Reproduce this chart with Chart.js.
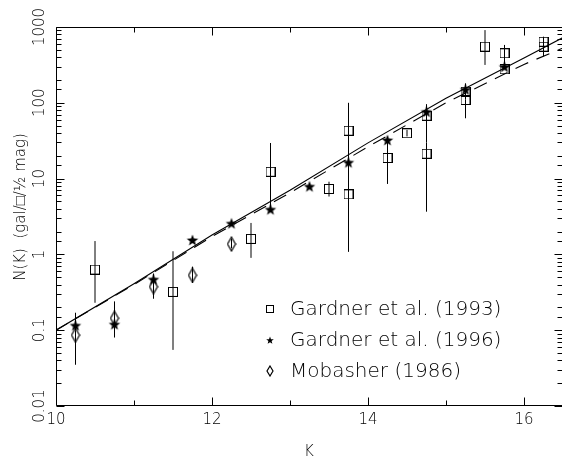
<!DOCTYPE html>
<html>
<head>
<meta charset="utf-8">
<script src="https://cdn.jsdelivr.net/npm/chart.js@4.4.1/dist/chart.umd.min.js"></script>
<style>
  html, body { margin: 0; padding: 0; background: #fff; overflow: hidden; }
  canvas { display: block; }
</style>
</head>
<body>
<canvas id="counts" width="570" height="462" style="width:570px;height:462px"></canvas>
<script>
// Gardner et al. (1993) - squares
const g93K  = [10.5, 11.5, 12.5, 12.75, 13.5, 13.75, 13.75, 14.25, 14.5, 14.75, 14.75, 15.25, 15.25, 15.5, 15.75, 15.75, 16.25, 16.25];
const g93N  = [0.63, 0.32, 1.6, 12.3, 7.3, 42.8, 6.2, 18.7, 39.6, 67.6, 21.3, 140, 109, 550, 450, 277, 640, 550];
const g93Lo = [0.23, 0.055, 0.9, 3.9, 5.8, 16, 1.08, 8.5, 36, 30, 3.66, 110, 62.5, 316, 300, null, 410, null];
const g93Hi = [1.5, 1.1, 2.6, 29.5, 9.1, 100, 16, 35.7, 44, 96, 30, 181, 110, 910, 580, null, 745, null];

// Gardner et al. (1996) - filled stars
const g96K  = [10.25, 10.75, 11.25, 11.75, 12.25, 12.75, 13.25, 13.75, 14.25, 14.75, 15.25, 15.75];
const g96N  = [0.116, 0.12, 0.47, 1.55, 2.57, 3.93, 7.9, 16.4, 32.3, 76.4, 150, 299];
const g96Lo = [0.1, 0.08, null, null, null, null, null, null, null, null, null, null];
const g96Hi = [0.17, 0.12, null, null, null, null, null, null, null, null, null, null];

// Mobasher (1986) - open diamonds
const mobK  = [10.25, 10.75, 11.25, 11.75, 12.25];
const mobN  = [0.086, 0.144, 0.375, 0.53, 1.37];
const mobLo = [0.035, 0.1, 0.26, 0.42, 1.2];
const mobHi = [0.1, 0.24, 0.56, 0.69, 1.6];

// model curves
const fitK      = [10, 11, 12, 13, 14, 15, 16, 16.5];
const fitSolid  = [0.1, 0.41, 1.8, 7.0, 29.6, 115, 390, 725];
const fitDashed = [0.1, 0.40, 1.72, 6.5, 26.3, 100, 321, 530];

const xLabels = ['10', '12', '14', '16'];
const yLabels = ['0.01', '0.1', '1', '10', '100', '1000'];
const seriesNames = ['Gardner et al. (1993)', 'Gardner et al. (1996)', 'Mobasher (1986)'];

const FONT = 'DejaVu Sans';
const WEIGHT = 200;

// marker images
function makeMarker(w, h, draw) {
    const c = document.createElement('canvas');
    c.width = w;
    c.height = h;
    const g = c.getContext('2d');
    g.strokeStyle = '#000';
    g.fillStyle = '#000';
    g.lineWidth = 1;
    draw(g, w, h);
    return c;
}

function squareMarker(s) {
    return makeMarker(s, s, g => g.strokeRect(0.5, 0.5, s - 1, s - 1));
}

function starMarker(r) {
    const s = Math.ceil(r * 2) + 2;
    return makeMarker(s, s, g => {
        g.beginPath();
        for (let i = 0; i < 10; i++) {
            const a = -Math.PI / 2 + i * Math.PI / 5;
            const rr = i % 2 ? r * 0.42 : r;
            g.lineTo(s / 2 + rr * Math.cos(a), s / 2 + 0.6 + rr * Math.sin(a));
        }
        g.closePath();
        g.fill();
    });
}

function diamondMarker(w, h) {
    return makeMarker(w + 2, h + 2, g => {
        g.beginPath();
        g.moveTo((w + 2) / 2, 1);
        g.lineTo(w + 1, (h + 2) / 2);
        g.lineTo((w + 2) / 2, h + 1);
        g.lineTo(1, (h + 2) / 2);
        g.closePath();
        g.lineWidth = 1.2;
        g.stroke();
    });
}

const markers = [squareMarker(10), starMarker(6), diamondMarker(8, 14)];
const legendMarkers = [squareMarker(8), starMarker(4), diamondMarker(6, 10)];

function points(ks, ns) {
    return ks.map((k, i) => ({ x: k, y: ns[i] }));
}

function errorBars(ks, lo, hi) {
    const out = [];
    ks.forEach((k, i) => {
        if (lo[i] == null) return;
        out.push({
            data: [{ x: k, y: lo[i] }, { x: k, y: hi[i] }],
            showLine: true,
            borderColor: '#000',
            borderWidth: 1,
            pointRadius: 0,
            order: 1
        });
    });
    return out;
}

function markerSet(label, ks, ns, img) {
    return {
        label: label,
        data: points(ks, ns),
        pointStyle: img,
        pointRadius: 5,
        showLine: false,
        order: 0
    };
}

// tick label padding so rotated labels centre at x=40
const probe = document.createElement('canvas').getContext('2d');
probe.font = WEIGHT + ' 15px "' + FONT + '"';
const widest = probe.measureText('1000').width;

// frame with inward ticks on all four sides, titles and legend
const framePlugin = {
    id: 'frame',
    afterDatasetsDraw(chart) {
        const { ctx, chartArea: a, scales: { x, y } } = chart;
        const L = Math.round(a.left) + 0.5, R = Math.round(a.right) - 0.5;
        const T = Math.round(a.top) + 0.5, B = Math.round(a.bottom) - 0.5;
        ctx.save();
        ctx.strokeStyle = '#000';
        ctx.lineWidth = 1;
        ctx.beginPath();
        ctx.rect(L, T, R - L, B - T);
        y.ticks.forEach(t => {
            const lg = Math.log10(t.value);
            const len = Math.abs(lg - Math.round(lg)) < 1e-6 ? 8 : 5;
            const py = Math.round(y.getPixelForValue(t.value)) + 0.5;
            ctx.moveTo(L, py); ctx.lineTo(L + len, py);
            ctx.moveTo(R, py); ctx.lineTo(R - len, py);
        });
        x.ticks.forEach(t => {
            if (!Number.isInteger(t.value)) return;
            const len = t.value % 2 === 0 ? 8 : 5;
            const px = Math.round(x.getPixelForValue(t.value)) + 0.5;
            ctx.moveTo(px, B); ctx.lineTo(px, B - len);
            ctx.moveTo(px, T); ctx.lineTo(px, T + len);
        });
        ctx.stroke();
        ctx.restore();
    },
    afterDraw(chart) {
        const { ctx } = chart;
        ctx.save();
        ctx.fillStyle = '#000';
        ctx.font = WEIGHT + ' 15px "' + FONT + '"';
        ctx.textAlign = 'center';
        ctx.textBaseline = 'middle';
        ctx.fillText('K', 309, 452);
        ctx.translate(21, 207);
        ctx.rotate(-Math.PI / 2);
        ctx.fillText('N(K)  (gal/\u25A1/\u00BD mag)', 0, 0);
        ctx.restore();

        ctx.save();
        ctx.fillStyle = '#000';
        ctx.font = WEIGHT + ' 20px "' + FONT + '"';
        ctx.textAlign = 'left';
        ctx.textBaseline = 'middle';
        const rows = [309, 340, 371];
        seriesNames.forEach((name, i) => {
            const m = legendMarkers[i];
            ctx.drawImage(m, Math.round(270 - m.width / 2), Math.round(rows[i] - m.height / 2));
            ctx.fillText(name, 290, rows[i] + 1);
        });
        ctx.restore();
    }
};

const datasets = [
    markerSet(seriesNames[0], g93K, g93N, markers[0]),
    markerSet(seriesNames[1], g96K, g96N, markers[1]),
    markerSet(seriesNames[2], mobK, mobN, markers[2]),
    ...errorBars(g93K, g93Lo, g93Hi),
    ...errorBars(g96K, g96Lo, g96Hi),
    ...errorBars(mobK, mobLo, mobHi),
    {
        data: points(fitK, fitSolid),
        showLine: true,
        borderColor: '#000',
        borderWidth: 1.1,
        pointRadius: 0,
        order: 2
    },
    {
        data: points(fitK, fitDashed),
        showLine: true,
        borderColor: '#000',
        borderWidth: 1.1,
        borderDash: [14, 9],
        pointRadius: 0,
        order: 2
    }
];

new Chart(document.getElementById('counts'), {
    type: 'scatter',
    data: { datasets: datasets },
    options: {
        responsive: false,
        animation: false,
        layout: { padding: { top: 27, right: 7, left: 0, bottom: 0 } },
        plugins: {
            legend: { display: false },
            tooltip: { enabled: false }
        },
        scales: {
            x: {
                type: 'linear',
                min: 10,
                max: 16.5,
                border: { display: false },
                grid: { display: false, drawTicks: false },
                afterFit: s => { s.height = 56; },
                ticks: {
                    stepSize: 1,
                    includeBounds: false,
                    autoSkip: false,
                    maxRotation: 0,
                    padding: 5,
                    color: '#000',
                    font: { family: FONT, size: 15, weight: WEIGHT },
                    callback: v => xLabels.includes(String(v)) ? String(v) : ''
                }
            },
            y: {
                type: 'logarithmic',
                min: 0.01,
                max: 1000,
                border: { display: false },
                grid: { display: false, drawTicks: false },
                afterFit: s => { s.width = 56; },
                ticks: {
                    autoSkip: false,
                    minRotation: 90,
                    maxRotation: 90,
                    crossAlign: 'center',
                    padding: 16 - widest / 2,
                    color: '#000',
                    font: { family: FONT, size: 15, weight: WEIGHT },
                    callback: v => yLabels.includes(String(v)) ? String(v) : ''
                }
            }
        }
    },
    plugins: [framePlugin]
});
</script>
</body>
</html>
